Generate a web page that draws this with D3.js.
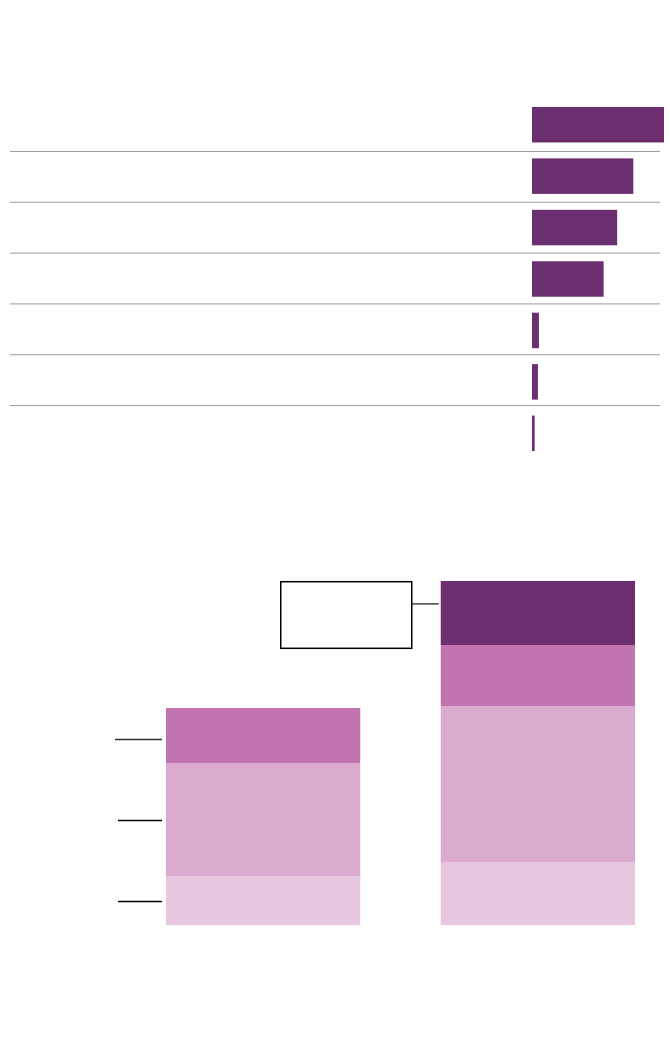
<!DOCTYPE html>
<html>
<head>
<meta charset="utf-8">
<script src="https://cdn.jsdelivr.net/npm/d3@7"></script>
<style>
  body { margin: 0; background: #fff; }
  svg { display: block; }
</style>
</head>
<body>
<div id="chart"></div>
<script>
// top chart: one bar per row
const rowKeys = ['r1', 'r2', 'r3', 'r4', 'r5', 'r6', 'r7'];
const rowValues = [40, 30.7, 25.8, 21.7, 2.1, 1.8, 0.8];

// bottom chart: two stacked columns
const columnKeys = ['left', 'right'];
const seriesKeys = ['s1', 's2', 's3', 's4'];
const s1Values = [49, 63];
const s2Values = [113, 156];
const s3Values = [55, 61];
const s4Values = [0, 64];

const width = 670;
const height = 1042;
const purple = '#6b2e6f';
const seriesColors = ['#e7c6df', '#daabcf', '#c174b0', purple];

const svg = d3.select('#chart')
  .append('svg')
  .attr('width', width)
  .attr('height', height);

// ---- top chart ----
const rowY = d3.scaleBand()
  .domain(rowKeys)
  .range([99, 459])
  .paddingInner(0.31)
  .paddingOuter(0.155);

const rowX = d3.scaleLinear()
  .domain([0, 40])
  .range([532, 664]);

const rowGap = rowY.step() - rowY.bandwidth();

svg.append('g')
  .selectAll('line')
  .data(rowKeys.slice(0, -1))
  .join('line')
  .attr('x1', 10)
  .attr('x2', 660)
  .attr('y1', (d, i) => rowY(d) + rowY.bandwidth() + rowGap / 2 + 1 - i * 0.6)
  .attr('y2', (d, i) => rowY(d) + rowY.bandwidth() + rowGap / 2 + 1 - i * 0.6)
  .attr('stroke', '#9a9a9a')
  .attr('stroke-width', 1);

svg.append('g')
  .selectAll('rect')
  .data(rowKeys.map((k, i) => ({ key: k, value: rowValues[i] })))
  .join('rect')
  .attr('x', rowX(0))
  .attr('y', (d) => rowY(d.key))
  .attr('width', (d) => rowX(d.value) - rowX(0))
  .attr('height', rowY.bandwidth())
  .attr('fill', purple);

// ---- bottom chart ----
const table = columnKeys.map((c, i) => ({
  column: c,
  s1: s1Values[i],
  s2: s2Values[i],
  s3: s3Values[i],
  s4: s4Values[i]
}));

const stacked = d3.stack().keys(seriesKeys)(table);

const colX = d3.scaleBand()
  .domain(columnKeys)
  .range([166, 635])
  .paddingInner(0.293)
  .paddingOuter(0);

const colY = d3.scaleLinear()
  .domain([0, 350])
  .range([925, 575]);

svg.append('g')
  .selectAll('g')
  .data(stacked)
  .join('g')
  .attr('fill', (d, i) => seriesColors[i])
  .selectAll('rect')
  .data((d) => d.filter((p) => p[1] > p[0]))
  .join('rect')
  .attr('x', (d) => colX(d.data.column))
  .attr('y', (d) => colY(d[1]))
  .attr('width', colX.bandwidth())
  .attr('height', (d) => colY(d[0]) - colY(d[1]));

// leader lines for the left column segments
const leftX = colX('left');
const leftSegments = stacked
  .map((s) => s[0])
  .filter((p) => p[1] > p[0]);
const isTop = (i) => i === leftSegments.length - 1;

svg.append('g')
  .selectAll('line')
  .data(leftSegments)
  .join('line')
  .attr('x1', (d, i) => leftX - (isTop(i) ? 51 : 48))
  .attr('x2', leftX - 4)
  .attr('y1', (d, i) => (colY(d[0]) + colY(d[1])) / 2 + (isTop(i) ? 4 : 1))
  .attr('y2', (d, i) => (colY(d[0]) + colY(d[1])) / 2 + (isTop(i) ? 4 : 1))
  .attr('stroke', (d, i) => (isTop(i) ? '#333' : '#000'))
  .attr('stroke-width', 1.4);

// empty callout box for the top segment of the right column
const topSeg = stacked[stacked.length - 1][1];
const rightX = colX('right');
const boxW = 131;
const boxX = rightX - 29 - boxW;
const boxY = colY(topSeg[1]) + 0.7;
const boxH = colY(topSeg[0]) - colY(topSeg[1]) + 2.6;

svg.append('rect')
  .attr('x', boxX)
  .attr('y', boxY)
  .attr('width', boxW)
  .attr('height', boxH)
  .attr('fill', 'none')
  .attr('stroke', '#000')
  .attr('stroke-width', 1.5);

svg.append('line')
  .attr('x1', boxX + boxW)
  .attr('x2', rightX - 2)
  .attr('y1', boxY + boxH / 3)
  .attr('y2', boxY + boxH / 3)
  .attr('stroke', '#333')
  .attr('stroke-width', 1.4);
</script>
</body>
</html>
